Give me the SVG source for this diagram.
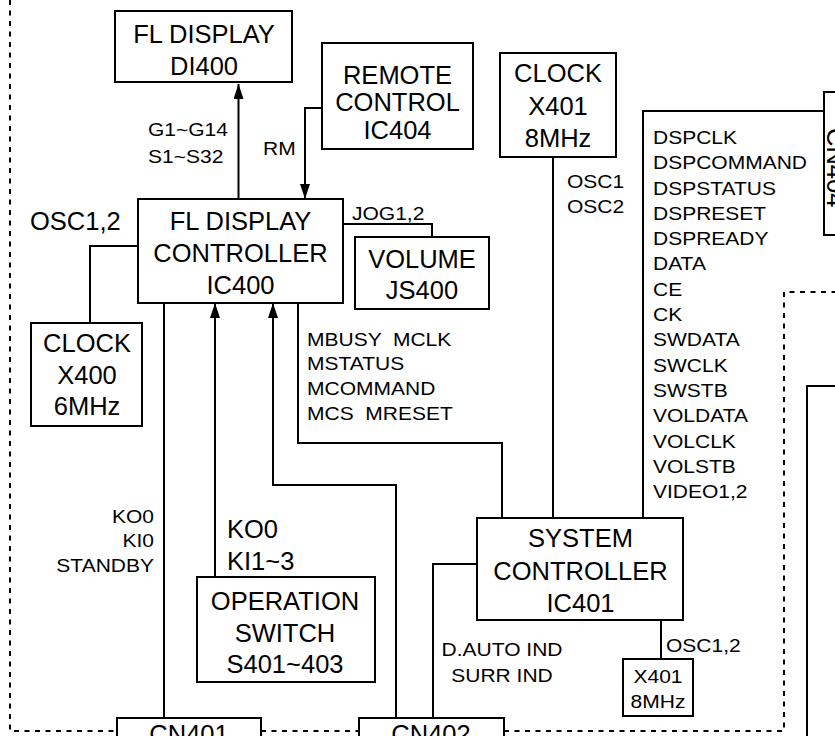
<svg xmlns="http://www.w3.org/2000/svg" width="835" height="736" viewBox="0 0 835 736">
<style>
  text { font-family: "Liberation Sans", Arial, Helvetica, sans-serif; fill: #000; }
  .b { font-size: 25.5px; }
  .s { font-size: 18.6px; }
  .m { text-anchor: middle; }
  .e { text-anchor: end; }
  .box { fill: #fff; stroke: #000; stroke-width: 2; }
  .ln { fill: none; stroke: #000; stroke-width: 2; }
  .dash { fill: none; stroke: #000; stroke-width: 2; stroke-dasharray: 5 5.5; }
</style>
<defs>
  <marker id="arr" markerUnits="userSpaceOnUse" markerWidth="16" markerHeight="12" refX="15" refY="5" orient="auto">
    <path d="M0,0 L15,5 L0,10 z" fill="#000"/>
  </marker>
</defs>
<rect width="835" height="736" fill="#fff"/>

<g id="frame">
  <path class="dash" d="M10 0 V731 H117"/>
  <path class="dash" d="M261 731 H359"/>
  <path class="dash" d="M504 731 H784 V292 H835"/>
</g>

<g id="connectors">
  <path class="ln" d="M238.5 199 V84" marker-end="url(#arr)"/>
  <path class="ln" d="M322 108 H305 V199" marker-end="url(#arr)"/>
  <path class="ln" d="M343 224 H432 V237"/>
  <path class="ln" d="M138 246 H90 V323"/>
  <path class="ln" d="M553 157 V518"/>
  <path class="ln" d="M643 518 V111 H824"/>
  <path class="ln" d="M298 303 V443 H502 V518"/>
  <path class="ln" d="M164 303 V718"/>
  <path class="ln" d="M215 577 V303" marker-end="url(#arr)"/>
  <path class="ln" d="M396 718 V485 H273 V303" marker-end="url(#arr)"/>
  <path class="ln" d="M477 564 H433 V718"/>
  <path class="ln" d="M661 620 V659"/>
</g>

<g id="labels">
  <text class="s" transform="translate(148 136) scale(1.13 1)"><tspan x="0" y="0">G1~G14</tspan><tspan x="0" y="27">S1~S32</tspan></text>
  <text class="s" transform="translate(263 155) scale(1.13 1)">RM</text>
  <text class="s" transform="translate(352 220) scale(1.13 1)">JOG1,2</text>
  <text class="b" x="30" y="230">OSC1,2</text>
  <text class="s" transform="translate(567 188) scale(1.13 1)"><tspan x="0" y="0">OSC1</tspan><tspan x="0" y="25">OSC2</tspan></text>
  <text class="s" transform="translate(653 144) scale(1.13 1)">
    <tspan x="0" y="0">DSPCLK</tspan>
    <tspan x="0" y="25.3">DSPCOMMAND</tspan>
    <tspan x="0" y="50.6">DSPSTATUS</tspan>
    <tspan x="0" y="75.9">DSPRESET</tspan>
    <tspan x="0" y="101.2">DSPREADY</tspan>
    <tspan x="0" y="126.5">DATA</tspan>
    <tspan x="0" y="151.8">CE</tspan>
    <tspan x="0" y="177.1">CK</tspan>
    <tspan x="0" y="202.4">SWDATA</tspan>
    <tspan x="0" y="227.7">SWCLK</tspan>
    <tspan x="0" y="253">SWSTB</tspan>
    <tspan x="0" y="278.3">VOLDATA</tspan>
    <tspan x="0" y="303.6">VOLCLK</tspan>
    <tspan x="0" y="328.9">VOLSTB</tspan>
    <tspan x="0" y="354.2">VIDEO1,2</tspan>
  </text>
  <text class="s" transform="translate(307 345.5) scale(1.13 1)" xml:space="preserve"><tspan x="0" y="0">MBUSY  MCLK</tspan><tspan x="0" y="25">MSTATUS</tspan><tspan x="0" y="50">MCOMMAND</tspan><tspan x="0" y="75">MCS  MRESET</tspan></text>
  <text class="s e" transform="translate(154 523) scale(1.13 1)"><tspan x="0" y="0">KO0</tspan><tspan x="0" y="24.5">KI0</tspan><tspan x="0" y="49">STANDBY</tspan></text>
  <text class="b" x="227" y="538">KO0</text>
  <text class="b" x="227" y="570">KI1~3</text>
  <text class="s m" transform="translate(502 656) scale(1.13 1)"><tspan x="0" y="0">D.AUTO IND</tspan><tspan x="0" y="26">SURR IND</tspan></text>
  <text class="s" transform="translate(666 652) scale(1.13 1)">OSC1,2</text>
</g>

<g id="fl-display">
  <rect class="box" x="115" y="11" width="177" height="71"/>
  <text class="b m" x="204" y="43">FL DISPLAY</text>
  <text class="b m" x="204" y="75">DI400</text>
</g>

<g id="remote-control">
  <rect class="box" x="322" y="43" width="151" height="106"/>
  <text class="b m" x="397.5" y="84">REMOTE</text>
  <text class="b m" x="397.5" y="111">CONTROL</text>
  <text class="b m" x="397.5" y="139">IC404</text>
</g>

<g id="clock-x401">
  <rect class="box" x="500" y="53" width="116" height="104"/>
  <text class="b m" x="558" y="82">CLOCK</text>
  <text class="b m" x="558" y="114.5">X401</text>
  <text class="b m" x="558" y="147">8MHz</text>
</g>

<g id="cn404">
  <rect class="box" x="824" y="92" width="30" height="143"/>
  <text class="b" transform="translate(827 128) rotate(90)">CN404</text>
</g>

<g id="fl-controller">
  <rect class="box" x="138" y="199" width="205" height="104"/>
  <text class="b m" x="240.5" y="229.5">FL DISPLAY</text>
  <text class="b m" x="240.5" y="261.5">CONTROLLER</text>
  <text class="b m" x="240.5" y="293.5">IC400</text>
</g>

<g id="volume">
  <rect class="box" x="355" y="237" width="134" height="72"/>
  <text class="b m" x="422" y="268">VOLUME</text>
  <text class="b m" x="422" y="299">JS400</text>
</g>

<g id="clock-x400">
  <rect class="box" x="31" y="323" width="111" height="103"/>
  <text class="b m" x="87" y="352">CLOCK</text>
  <text class="b m" x="87" y="383.5">X400</text>
  <text class="b m" x="87" y="415">6MHz</text>
</g>

<g id="system-controller">
  <rect class="box" x="477" y="518" width="206" height="102"/>
  <text class="b m" x="580.5" y="547">SYSTEM</text>
  <text class="b m" x="580.5" y="580">CONTROLLER</text>
  <text class="b m" x="580.5" y="612">IC401</text>
</g>

<g id="operation-switch">
  <rect class="box" x="197" y="577" width="178" height="105"/>
  <text class="b m" x="285" y="610">OPERATION</text>
  <text class="b m" x="285" y="642">SWITCH</text>
  <text class="b m" x="285" y="673">S401~403</text>
</g>

<g id="x401-small">
  <rect class="box" x="623" y="659" width="70" height="57"/>
  <text class="s m" transform="translate(658 683) scale(1.13 1)"><tspan x="0" y="0">X401</tspan><tspan x="0" y="25">8MHz</tspan></text>
</g>

<g id="cn401">
  <rect class="box" x="117" y="718" width="144" height="30"/>
  <text class="b m" x="189" y="743">CN401</text>
</g>

<g id="cn402">
  <rect class="box" x="359" y="718" width="145" height="30"/>
  <text class="b m" x="431" y="743">CN402</text>
</g>

<g id="right-block">
  <rect class="box" x="807" y="386" width="60" height="400"/>
</g>
</svg>
